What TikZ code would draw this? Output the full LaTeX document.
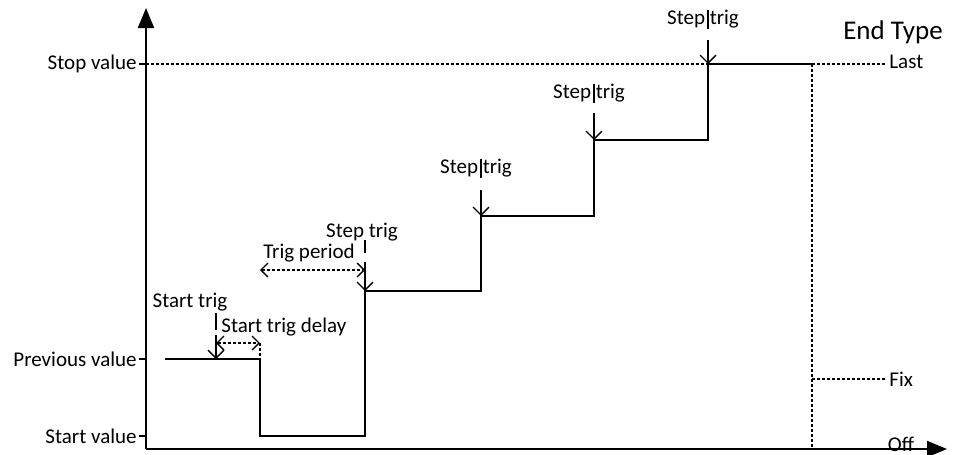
\documentclass[tikz,border=0pt]{standalone}
\usepackage{fontspec}
\setmainfont{Carlito}
\usetikzlibrary{arrows.meta,calc}

\begin{document}
\begin{tikzpicture}[x=0.5pt, y=-0.5pt,
    axis/.style={line width=1pt, -{Triangle[length=10pt, width=8pt]}},
    signal/.style={line width=1pt},
    guide/.style={line width=0.65pt, dash pattern=on 1.5pt off 1pt},
    trig/.style={line width=0.65pt, -{Straight Barb[length=4pt, width=8pt]}},
    span/.style={guide, {Straight Barb[length=3.5pt, width=7pt]}-{Straight Barb[length=3.5pt, width=7pt]}},
    lbl/.style={font=\fontsize{10.5}{12}\selectfont, inner sep=1pt}
]
\useasboundingbox (0,0) rectangle (954,455);
\coordinate (o) at (146,449);
\coordinate (ytip) at (146,8);
\coordinate (xtip) at (947,449);
\draw[axis] (o) -- (ytip);
\draw[axis] (o) -- (xtip);

\node[lbl, anchor=east] (stop) at (139,64) {Stop value};
\node[lbl, anchor=east] (prev) at (139,359) {Previous value};
\node[lbl, anchor=east] (start) at (139,436) {Start value};
\draw[signal] (stop.east) -- (stop.east -| o);
\draw[signal] (prev.east) -- (prev.east -| o);
\draw[signal] (start.east) -- (start.east -| o);

\coordinate (p0) at (165,359);
\coordinate (t0) at (216,359);
\coordinate (d0) at (260,359);
\coordinate (t1) at (365,291);
\coordinate (t2) at (481,216);
\coordinate (t3) at (594,140);
\coordinate (t4) at (708,64);
\coordinate (e) at (812,64);
\draw[signal] (p0) -- (d0) -- (260,436) -- (365,436) -- (t1) -- (t2 |- t1)
    -- (t2) -- (t3 |- t2) -- (t3) -- (t4 |- t3) -- (t4) -- (e);
\draw[guide] (stop.east -| o) -- (t4);

\node[lbl] (st) at (190,302) {Start trig};
\draw[line width=0.65pt] ($(t0)+(0,-46)$) -- ($(t0)+(0,-29)$);
\draw[trig] ($(t0)+(0,-24)$) -- (t0);
\coordinate (dl) at ($(t0)+(0,-16)$);
\coordinate (dr) at ($(d0)+(0,-16)$);
\draw[span] (dl) -- (dr);
\draw[guide] (dr) -- (d0);
\node[lbl, anchor=west] (std) at (219,327) {Start trig delay};

\node[lbl] (s1) at ($(t1)+(-3,-59)$) {Step trig};
\draw[line width=0.65pt] ($(t1)+(0,-51)$) -- ($(t1)+(0,-38)$);
\draw[trig] ($(t1)+(0,-29)$) -- (t1);
\coordinate (pl) at (260,270);
\coordinate (pr) at (t1 |- pl);
\draw[span] (pl) -- (pr);
\node[lbl] (tp) at (309,253) {Trig period};

\node[lbl] (s2) at ($(t2)+(-5,-48)$) {Step trig};
\draw[line width=0.65pt] ($(t2)+(0,-57)$) -- ($(t2)+(0,-38)$);
\draw[trig] ($(t2)+(0,-26)$) -- (t2);
\node[lbl] (s3) at ($(t3)+(-5,-47)$) {Step trig};
\draw[line width=0.65pt] ($(t3)+(0,-56)$) -- ($(t3)+(0,-37)$);
\draw[trig] ($(t3)+(0,-27)$) -- (t3);
\node[lbl] (s4) at ($(t4)+(-5,-45)$) {Step trig};
\draw[line width=0.65pt] ($(t4)+(0,-54)$) -- ($(t4)+(0,-35)$);
\draw[trig] ($(t4)+(0,-24)$) -- (t4);

\node[font=\fontsize{13.5}{16}\selectfont] (endtype) at (893,32) {End Type};
\node[lbl, anchor=west] (last) at (887,62) {Last};
\node[lbl, anchor=west] (fix) at (887,379) {Fix};
\node[lbl] (off) at (901,444) {Off};
\coordinate (ed) at (e |- o);
\draw[guide] (e) -- (ed);
\draw[guide] (e) -- (last.west |- e);
\draw[guide] (e |- fix) -- (fix.west);
\end{tikzpicture}
\end{document}
